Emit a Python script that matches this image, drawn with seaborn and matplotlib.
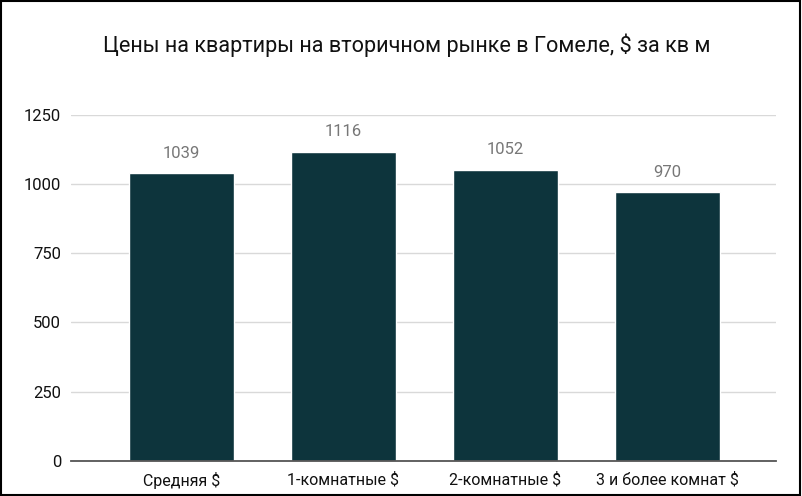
import matplotlib
matplotlib.use("Agg")
import matplotlib.pyplot as plt
import seaborn as sns
import pandas as pd
from matplotlib.patches import Rectangle

# ---------- DATA ----------
categories = ["Средняя $", "1-комнатные $", "2-комнатные $", "3 и более комнат $"]
prices = [1039, 1116, 1052, 970]
yticks = [0, 250, 500, 750, 1000, 1250]
title = "Цены на квартиры на вторичном рынке в Гомеле, $ за кв м"

df = pd.DataFrame({"cat": categories, "price": prices})

sns.set_theme(style="white")
plt.rcParams["font.family"] = ["Roboto", "DejaVu Sans"]

fig = plt.figure(figsize=(8.02, 4.96), dpi=100)
ax = fig.add_axes([0.0885, 0.0706, 0.879, 0.698])

sns.barplot(data=df, x="cat", y="price", color="#0d343c", width=0.65,
            saturation=1, ax=ax, zorder=3)

for i, v in enumerate(prices):
    ax.text(i, v + 45, str(v), ha="center", va="bottom", fontsize=12, color="#777777")

ax.set_xlim(-0.68, 3.67)
ax.set_ylim(0, 1250)
ax.set_yticks(yticks)
ax.set_yticklabels([str(t) for t in yticks], fontsize=12, color="#111111")
ax.tick_params(axis="x", labelsize=11.5, colors="#111111", length=0, pad=8)
ax.tick_params(axis="y", length=0, pad=7)
ax.set_xlabel("")
ax.set_ylabel("")
ax.yaxis.grid(True, color="#d9d9d9", linewidth=1, zorder=0)
ax.set_axisbelow(True)
for s in ["top", "right", "left"]:
    ax.spines[s].set_visible(False)
ax.spines["bottom"].set_color("#555555")
ax.spines["bottom"].set_linewidth(1.3)
ax.spines["bottom"].set_zorder(4)

fig.text(0.507, 0.908, title, ha="center", va="center", fontsize=15.6, color="#111111")

# thin frame around the picture
fig.patches.append(Rectangle((0.001, 0.002), 0.997, 0.996, transform=fig.transFigure,
                             fill=False, edgecolor="black", linewidth=1.5))

fig.savefig("out.png", dpi=100)
